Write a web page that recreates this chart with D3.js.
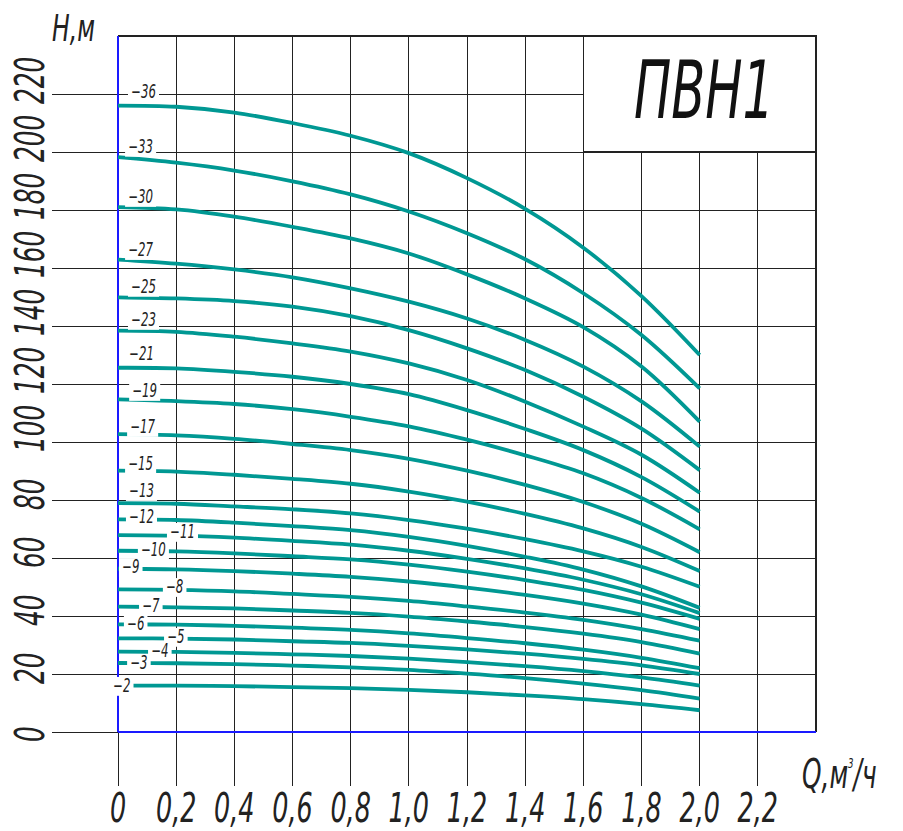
<!DOCTYPE html>
<html><head><meta charset="utf-8">
<script src="https://cdn.jsdelivr.net/npm/d3@7/dist/d3.min.js"></script>
<style>html,body{margin:0;padding:0;background:#fff;} svg{display:block}</style>
</head><body>
<svg id="chart" width="903" height="831"></svg>
<script>
// ---- data ----
const qValues = [0, 0.2, 0.4, 0.6, 0.8, 1.0, 1.2, 1.4, 1.6, 1.8, 2.0];
const h36 = [216, 215.6, 213.6, 210, 205.6, 199.6, 191, 180.4, 167, 150.3, 130];
const h33 = [198.2, 196.3, 193.6, 189.9, 185.4, 179.5, 172, 163, 151.3, 136.9, 118.5];
const h30 = [181, 180.2, 177.7, 174.2, 170.2, 165, 157.8, 149.5, 139.6, 126, 107];
const h27 = [162.9, 161.5, 159.5, 156.8, 153, 148.4, 142.6, 135.2, 126, 114, 98.4];
const h25 = [149.9, 149.5, 148.6, 146.7, 143.4, 138.6, 132.3, 124.8, 115.6, 104.6, 90.3];
const h23 = [138.4, 138, 136.3, 134, 131.2, 127.1, 121.4, 113.9, 105.3, 95.6, 82.5];
const h21 = [125.6, 125.4, 124.2, 122.5, 120, 116.5, 111, 104.5, 97.2, 87.9, 76];
const h19 = [114.7, 114.1, 113.1, 111.3, 108.7, 105.4, 100.8, 95.4, 89.2, 80.7, 69.9];
const h17 = [102.7, 102.3, 101.1, 99.3, 97.2, 94.2, 90.1, 85.2, 79.3, 71.8, 62];
const h15 = [90.1, 89.8, 88.7, 87.3, 85.6, 82.9, 79.4, 75.2, 70.2, 63.8, 55.5];
const h13 = [78.9, 78.7, 77.8, 76.8, 75.4, 73.1, 70.1, 66.5, 62.3, 57, 50.1];
const h12 = [73.3, 73.1, 72.2, 71, 69.6, 67.3, 64.2, 60.4, 56, 50.2, 42.8];
const h11 = [67.9, 67.7, 67, 65.9, 64.6, 62.5, 59.7, 56.4, 52.5, 47.5, 41];
const h10 = [62.5, 62.3, 61.6, 60.6, 59.5, 57.7, 55.3, 52.4, 49, 44.6, 39];
const h9  = [56.3, 56.1, 55.5, 54.6, 53.5, 51.9, 49.8, 47.3, 44.3, 40.5, 35.5];
const h8  = [49.2, 49, 48.5, 47.6, 46.6, 45.2, 43.3, 41.2, 38.7, 35.5, 31.5];
const h7  = [43.2, 43, 42.6, 41.9, 41.1, 39.8, 38.1, 36.2, 33.9, 31, 27];
const h6  = [37.1, 37, 36.6, 36, 35.2, 34, 32.4, 30.6, 28.4, 25.6, 22];
const h5  = [32.3, 32.2, 31.9, 31.3, 30.7, 29.7, 28.5, 27, 25.2, 23, 20];
const h4  = [27.7, 27.6, 27.3, 26.8, 26.2, 25.3, 24.1, 22.7, 21, 18.8, 16];
const h3  = [23.8, 23.7, 23.4, 22.9, 22.3, 21.4, 20.1, 18.6, 16.7, 14.4, 11.5];
const h2  = [16, 16, 15.8, 15.5, 15.1, 14.5, 13.7, 12.6, 11.3, 9.6, 7.5];

const stages = [36, 33, 30, 27, 25, 23, 21, 19, 17, 15, 13, 12, 11, 10, 9, 8, 7, 6, 5, 4, 3, 2];
const headSeries = [h36, h33, h30, h27, h25, h23, h21, h19, h17, h15, h13, h12, h11, h10, h9, h8, h7, h6, h5, h4, h3, h2];
const stageLabels = stages.map(s => "\u2212" + s);

// label anchor (left edge, baseline) in data units
const labelQ = [0.045, 0.035, 0.035, 0.035, 0.045, 0.045, 0.038, 0.049, 0.042, 0.035, 0.038, 0.038, 0.179, 0.079, 0.014, 0.165, 0.083, 0.031, 0.169, 0.114, 0.042, -0.017];
const labelH = [218.6, 199.7, 182.4, 164.1, 151.4, 140, 128.3, 115.5, 103.1, 90.3, 81, 72, 66.9, 60.7, 54.8, 47.9, 41.4, 35.2, 30.7, 25.9, 21.7, 13.8];

const xTickValues = [0, 0.2, 0.4, 0.6, 0.8, 1.0, 1.2, 1.4, 1.6, 1.8, 2.0, 2.2];
const xTickLabels = ["0", "0,2", "0,4", "0,6", "0,8", "1,0", "1,2", "1,4", "1,6", "1,8", "2,0", "2,2"];
const yTickValues = [0, 20, 40, 60, 80, 100, 120, 140, 160, 180, 200, 220];
const yTickLabels = ["0", "20", "40", "60", "80", "100", "120", "140", "160", "180", "200", "220"];

const title = "ПВН1";
const yAxisTitle = "H,м";

// ---- drawing ----
const svg = d3.select("#chart");
const x = d3.scaleLinear().domain([0, 2.4]).range([118, 816]);
const y = d3.scaleLinear().domain([0, 240]).range([732, 36]);
const FONT = "'DejaVu Sans', sans-serif";
const GRID = "#222";
const TEAL = "#009893";
const BLUE = "#1a1aff";

const grid = svg.append("g").attr("shape-rendering", "crispEdges");
grid.selectAll(".vx").data(xTickValues).enter().append("line")
  .attr("x1", d => x(d)).attr("x2", d => x(d))
  .attr("y1", d => d >= 1.6 ? y(200) : y(240)).attr("y2", 786)
  .attr("stroke", GRID).attr("stroke-width", 1);
grid.append("line").attr("x1", x(2.4)).attr("x2", x(2.4)).attr("y1", y(240)).attr("y2", y(0))
  .attr("stroke", GRID).attr("stroke-width", 1.3);
grid.selectAll(".hy").data(yTickValues).enter().append("line")
  .attr("x1", 52).attr("x2", d => d > 200 ? x(1.6) : x(2.4))
  .attr("y1", d => y(d)).attr("y2", d => y(d))
  .attr("stroke", GRID).attr("stroke-width", 1);
grid.append("line").attr("x1", x(0)).attr("x2", x(2.4)).attr("y1", y(240)).attr("y2", y(240))
  .attr("stroke", GRID).attr("stroke-width", 1.3);
grid.append("rect").attr("x", x(1.6)).attr("y", y(240))
  .attr("width", x(2.4) - x(1.6)).attr("height", y(200) - y(240))
  .attr("fill", "#fff").attr("stroke", GRID).attr("stroke-width", 1.3);

grid.append("line").attr("x1", x(0)).attr("x2", x(0)).attr("y1", y(240)).attr("y2", y(0))
  .attr("stroke", BLUE).attr("stroke-width", 1.5);
grid.append("line").attr("x1", x(0)).attr("x2", x(2.4)).attr("y1", y(0)).attr("y2", y(0))
  .attr("stroke", BLUE).attr("stroke-width", 1.5);

// curves
const line = d3.line().x(d => x(d[0])).y(d => y(d[1])).curve(d3.curveCatmullRom.alpha(0.5));
svg.append("g").selectAll("path").data(headSeries).enter().append("path")
  .attr("d", hs => line(qValues.map((q, i) => [q, hs[i]])))
  .attr("fill", "none").attr("stroke", TEAL).attr("stroke-width", 3.8);

// curve labels with white background
const lblG = svg.append("g");
stageLabels.forEach((t, i) => {
  const g = lblG.append("g").attr("transform", `translate(${x(labelQ[i])},${y(labelH[i])}) scale(0.62,1)`);
  const txt = g.append("text").attr("x", 0).attr("y", 0)
    .attr("font-family", FONT).attr("font-style", "italic").attr("font-size", 19)
    .attr("fill", "#222").text(t);
  const bb = txt.node().getBBox();
  g.insert("rect", "text").attr("x", bb.x - 5).attr("y", bb.y + 3)
    .attr("width", bb.width + 10).attr("height", bb.height - 4).attr("fill", "#fff");
});

// y tick labels (rotated)
svg.append("g").selectAll("g").data(yTickValues).enter().append("g")
  .attr("transform", d => `translate(44,${y(d) + 10}) rotate(-90) scale(0.62,1)`)
  .append("text").attr("text-anchor", "start")
  .attr("font-family", FONT).attr("font-style", "italic").attr("font-size", 40)
  .attr("fill", "#222").text((d, i) => yTickLabels[i]);

// x tick labels
svg.append("g").selectAll("g").data(xTickValues).enter().append("g")
  .attr("transform", d => `translate(${x(d)},822) scale(0.62,1)`)
  .append("text").attr("text-anchor", "middle")
  .attr("font-family", FONT).attr("font-style", "italic").attr("font-size", 41)
  .attr("fill", "#222").text((d, i) => xTickLabels[i]);

// axis titles
svg.append("g").attr("transform", "translate(52,41) scale(0.62,1)")
  .append("text").attr("font-family", FONT).attr("font-style", "italic").attr("font-size", 38)
  .attr("fill", "#222").text(yAxisTitle);

const qt = svg.append("g").attr("transform", "translate(802,788) scale(0.62,1)")
  .append("text").attr("font-family", FONT).attr("font-style", "italic").attr("font-size", 40).attr("fill", "#222");
qt.append("tspan").text("Q,м");
qt.append("tspan").attr("font-size", 14).attr("dy", -20).text("3");
qt.append("tspan").attr("dy", 20).text("/ч");

// title
svg.append("g").attr("transform", "translate(704,118) scale(0.62,1)")
  .append("text").attr("text-anchor", "middle")
  .attr("font-family", FONT).attr("font-style", "italic").attr("font-size", 80)
  .attr("fill", "#111").text(title);
</script>
</body></html>
